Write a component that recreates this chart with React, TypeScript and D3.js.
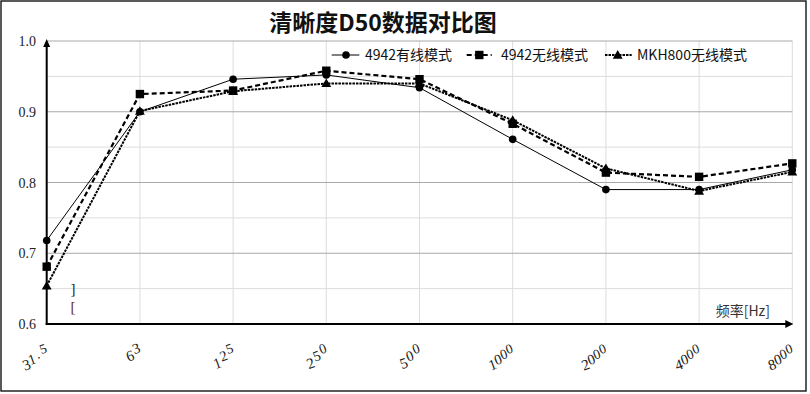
import React from "react";
import * as d3 from "d3";

const categories = ["31.5", "63", "125", "250", "500", "1000", "2000", "4000", "8000"];
const wiredValues = [0.718, 0.9, 0.946, 0.952, 0.934, 0.861, 0.79, 0.79, 0.818];
const wirelessValues = [0.681, 0.925, 0.93, 0.958, 0.946, 0.883, 0.814, 0.808, 0.827];
const mkhValues = [0.654, 0.901, 0.929, 0.94, 0.94, 0.888, 0.82, 0.788, 0.815];
const seriesNames = ["4942有线模式", "4942无线模式", "MKH800无线模式"];
const yTicks = [0.6, 0.7, 0.8, 0.9, 1.0];
const yMinorTicks = [0.65, 0.75, 0.85, 0.95];
const title = "清晰度D50数据对比图";
const xAxisTitle = "频率[Hz]";

const W = 810;
const H = 394;

export default function App() {
  const x = d3.scalePoint<string>().domain(categories).range([46.7, 792.3]);
  const y = d3.scaleLinear().domain([0.6, 1.0]).range([324, 41]);
  const line = d3
    .line<number>()
    .x((_, i) => x(categories[i]) as number)
    .y((d) => y(d));

  const series = [
    { name: seriesNames[0], values: wiredValues, dash: undefined, width: 1, marker: "circle" },
    { name: seriesNames[1], values: wirelessValues, dash: "5,3", width: 2.2, marker: "square" },
    { name: seriesNames[2], values: mkhValues, dash: "2.5,1", width: 2, marker: "triangle" },
  ];

  const tri = d3.symbol().type(d3.symbolTriangle).size(42)() as string;

  const marker = (kind: string, cx: number, cy: number, key: string) => {
    if (kind === "circle") return <circle key={key} cx={cx} cy={cy} r={3.8} fill="#000" />;
    if (kind === "square") return <rect key={key} x={cx - 4.2} y={cy - 4.2} width={8.4} height={8.4} fill="#000" />;
    return <path key={key} d={tri} transform={`translate(${cx},${cy + 0.8})`} fill="#000" />;
  };

  const x0 = x(categories[0]) as number;
  const xN = x(categories[categories.length - 1]) as number;

  const legendItems = [
    { lx0: 331.7, lx1: 359.3, mx: 346, tx: 365 },
    { lx0: 466.7, lx1: 491.7, mx: 479.3, tx: 501 },
    { lx0: 605, lx1: 631.7, mx: 617.7, tx: 637 },
  ];

  return (
    <svg
      width={W}
      height={H}
      style={{ position: "absolute", left: 0, top: 0, background: "#fff" }}
      xmlns="http://www.w3.org/2000/svg"
    >
      <rect x={0} y={0} width={W} height={H} fill="#fff" />
      <rect x={1} y={1} width={805} height={390} fill="none" stroke="#000" strokeWidth={1.3} />

      {/* title */}
      <text
        x={383}
        y={31}
        textAnchor="middle"
        fontFamily="'Noto Sans CJK SC', sans-serif"
        fontWeight="bold"
        fontSize={23}
        fill="#111"
      >
        {title}
      </text>

      {/* minor grid */}
      {yMinorTicks.map((t) => (
        <line key={"m" + t} x1={x0} x2={xN} y1={y(t)} y2={y(t)} stroke="#dcdcdc" strokeWidth={1} />
      ))}
      {categories.map((c) => (
        <line key={"v" + c} x1={x(c)} x2={x(c)} y1={y(1.0)} y2={y(0.6)} stroke="#dcdcdc" strokeWidth={1} />
      ))}
      {yTicks.map((t) => (
        <line key={"g" + t} x1={x0} x2={xN} y1={y(t)} y2={y(t)} stroke="#a8a8a8" strokeWidth={1} />
      ))}

      {/* y tick labels */}
      {yTicks.map((t) => (
        <text
          key={"yl" + t}
          x={36}
          y={y(t) + 5}
          textAnchor="end"
          fontFamily="'Liberation Serif', serif"
          fontSize={14}
          fill="#222"
        >
          {t.toFixed(1)}
        </text>
      ))}

      {/* x tick labels: stepped characters */}
      {categories.map((c) => {
        const cx = x(c) as number;
        const chars = c.split("");
        const n = chars.length;
        const stepX = n >= 4 ? 5.5 : 6;
        const stepY = n >= 4 ? 5.5 : 7.5;
        return chars.map((ch, i) => {
          const k = n - 1 - i;
          const px = cx - 2 - k * stepX;
          const py = 353 + k * stepY;
          const fs = 15 - i * 0.5;
          return (
            <text
              key={c + "_" + i}
              x={px}
              y={py}
              textAnchor="middle"
              fontFamily="'Liberation Serif', serif"
              fontSize={fs}
              fill="#222"
              transform={`rotate(-20,${px},${py})`}
            >
              {ch}
            </text>
          );
        });
      })}

      {/* series lines */}
      {series.map((s) => (
        <path
          key={"l" + s.name}
          d={line(s.values) as string}
          fill="none"
          stroke="#000"
          strokeWidth={s.width}
          strokeDasharray={s.dash}
        />
      ))}
      {series.map((s) =>
        s.values.map((v, i) => marker(s.marker, x(categories[i]) as number, y(v), s.name + i))
      )}

      {/* axes */}
      <line x1={x0} x2={x0} y1={y(0.6) + 1} y2={y(1.0) + 4} stroke="#000" strokeWidth={2} />
      <path d={`M${x0 - 3.5},${y(1.0) + 6} L${x0},${y(1.0) - 2} L${x0 + 3.5},${y(1.0) + 6} Z`} fill="#000" />
      <line x1={x0 - 1} x2={xN - 4} y1={y(0.6)} y2={y(0.6)} stroke="#000" strokeWidth={2} />
      <path d={`M${xN - 7},${y(0.6) - 4} L${xN + 1},${y(0.6)} L${xN - 7},${y(0.6) + 4} Z`} fill="#000" />

      {/* x axis title */}
      <text
        x={770}
        y={316}
        textAnchor="end"
        fontFamily="'Noto Sans CJK SC', sans-serif"
        fontSize={14}
        fill="#333"
      >
        {xAxisTitle}
      </text>

      {/* stray brackets */}
      <text x={73} y={294} textAnchor="middle" fontFamily="'Liberation Serif', serif" fontSize={15} fill="#222">
        ]
      </text>
      <text x={73} y={312} textAnchor="middle" fontFamily="'Liberation Serif', serif" fontSize={15} fill="#6b2a1a">
        [
      </text>

      {/* legend */}
      {series.map((s, i) => {
        const it = legendItems[i];
        return (
          <g key={"lg" + i}>
            <line
              x1={it.lx0}
              x2={it.lx1}
              y1={55}
              y2={55}
              stroke="#000"
              strokeWidth={s.width}
              strokeDasharray={s.dash}
            />
            {marker(s.marker, it.mx, 55, "lm" + i)}
            <text
              x={it.tx}
              y={60}
              fontFamily="'Noto Sans CJK SC', sans-serif"
              fontSize={14}
              fill="#111"
            >
              {s.name}
            </text>
          </g>
        );
      })}
    </svg>
  );
}
